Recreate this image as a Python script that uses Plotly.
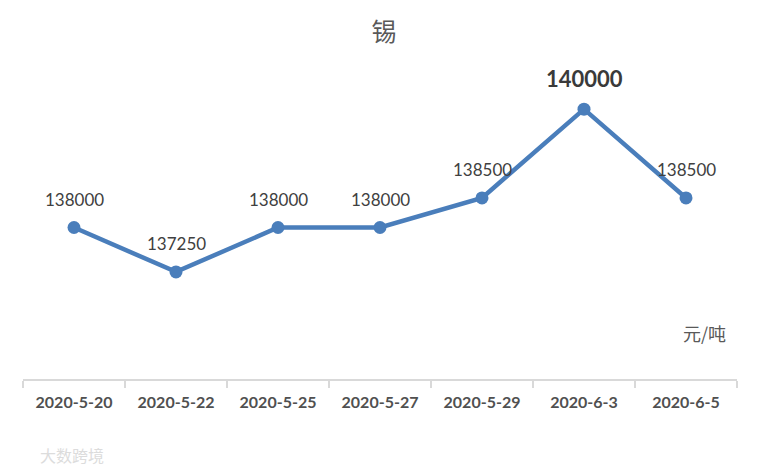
import plotly.graph_objects as go

dates = ['2020-5-20', '2020-5-22', '2020-5-25', '2020-5-27', '2020-5-29', '2020-6-3', '2020-6-5']
prices = [138000, 137250, 138000, 138000, 138500, 140000, 138500]
title = '锡'
unit = '元/吨'

peak = max(prices)

fig = go.Figure()
fig.add_trace(go.Scatter(
    x=dates, y=prices,
    mode='lines+markers',
    line=dict(color='#4a7ebb', width=4.5),
    marker=dict(color='#4a7ebb', size=13),
    cliponaxis=False,
))

# value labels above each point, the peak one bigger and bold
for d, p in zip(dates, prices):
    if p == peak:
        fig.add_annotation(x=d, y=p, text='<b>%d</b>' % p, showarrow=False,
                           yshift=31, font=dict(family='Lato', size=22, color='#3a3a3a'))
    else:
        fig.add_annotation(x=d, y=p, text=str(p), showarrow=False,
                           yshift=28, font=dict(family='Lato', size=17, color='#404040'))

# page body has an 8px margin, so size/margins compensate for it
fig.update_layout(
    width=752, height=464,
    margin=dict(l=15, r=23, t=42, b=93),
    paper_bgcolor='white', plot_bgcolor='white',
    showlegend=False,
    title=dict(text=title, x=0.5, xanchor='center', y=0.948, yanchor='middle',
               font=dict(family='Noto Sans CJK SC', size=25, color='#595959')),
    font=dict(family='Lato, Noto Sans CJK SC', color='#595959'),
)

fig.update_xaxes(
    type='category', range=[-0.5, len(dates) - 0.5],
    showline=True, linecolor='#d9d9d9', linewidth=2,
    ticks='outside', tickson='boundaries', ticklen=7, tickcolor='#d9d9d9', tickwidth=2,
    ticklabelstandoff=8,
    tickfont=dict(family='Lato', size=16, color='#505050'),
    tickprefix='<b>', ticksuffix='</b>',
    showgrid=False, zeroline=False,
)
fig.update_yaxes(range=[135440, 141000], visible=False, showgrid=False)

fig.add_annotation(text=unit, xref='paper', yref='paper', x=0.955, y=0.14,
                   showarrow=False, xanchor='center', yanchor='middle',
                   font=dict(family='Noto Sans CJK SC', size=18, color='#595959'))
fig.add_annotation(text='大数跨境', xref='paper', yref='paper', x=0.021, y=-0.231,
                   showarrow=False, xanchor='left', yanchor='middle',
                   font=dict(family='Noto Sans CJK SC', size=16, color='#dcdcdc'))

fig.write_html('out.html')
